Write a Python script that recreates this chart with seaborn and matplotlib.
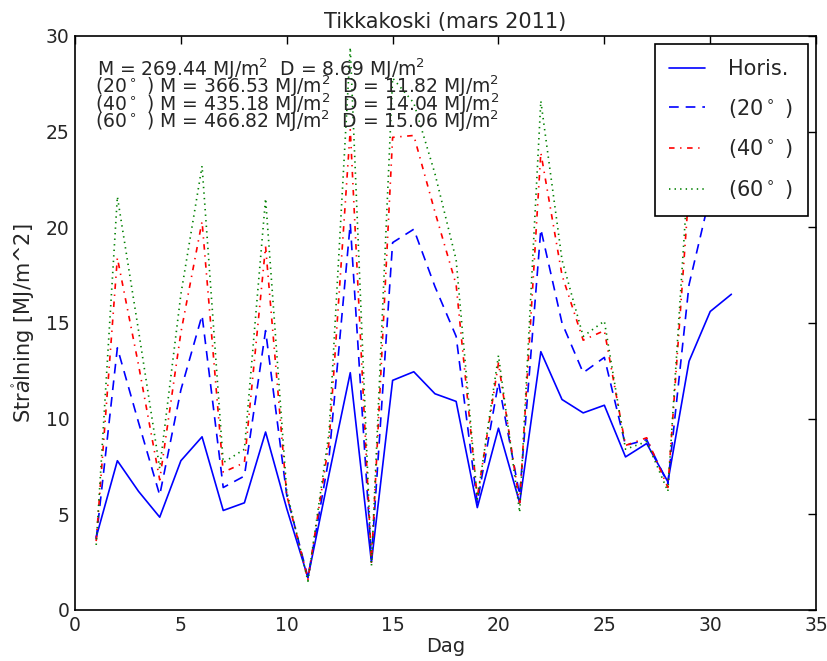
import numpy as np
import pandas as pd
import seaborn as sns
import matplotlib.pyplot as plt

# daily irradiation, Tikkakoski, March 2011 (MJ/m^2)
days = list(range(1, 32))
horis = [3.8, 7.8, 6.2, 4.85, 7.8, 9.05, 5.2, 5.6, 9.3, 5.3,
         1.7, 7.1, 12.4, 2.5, 12.0, 12.45, 11.3, 10.9, 5.35, 9.5,
         5.6, 13.5, 11.0, 10.3, 10.7, 8.0, 8.7, 6.7, 13.0, 15.6, 16.5]
tilt20 = [3.7, 13.7, 9.8, 6.0, 11.5, 15.4, 6.4, 7.0, 14.6, 6.0,
          1.7, 8.0, 20.2, 2.7, 19.2, 19.9, 16.9, 14.3, 5.6, 11.9,
          6.0, 19.9, 15.0, 12.4, 13.2, 8.6, 8.9, 6.6, 17.0, 21.7, 22.7]
tilt40 = [3.6, 18.4, 12.8, 6.8, 14.5, 20.3, 7.2, 7.7, 19.0, 6.0,
          1.6, 8.8, 25.1, 2.5, 24.7, 24.8, 20.8, 17.0, 5.9, 12.9,
          5.6, 23.9, 17.5, 14.1, 14.6, 8.6, 9.0, 6.4, 22.0, 25.8, 27.3]
tilt60 = [3.4, 21.6, 14.6, 7.4, 16.5, 23.2, 7.7, 8.4, 21.5, 6.2,
          1.5, 9.3, 29.4, 2.3, 27.8, 26.5, 22.8, 18.3, 5.8, 13.3,
          5.1, 26.6, 18.3, 14.3, 15.1, 8.4, 8.8, 6.2, 23.5, 26.4, 26.6]

labels = ["Horis.", "(20$^\\circ$ )", "(40$^\\circ$ )", "(60$^\\circ$ )"]
prefixes = ["", "(20$^\\circ$ ) ", "(40$^\\circ$ ) ", "(60$^\\circ$ ) "]
month_totals = [269.44, 366.53, 435.18, 466.82]
daily_means = [8.69, 11.82, 14.04, 15.06]

colors = ["blue", "blue", "red", "green"]
styles = ["-", (0, (7, 5)), (0, (4, 4, 1, 4)), (0, (1, 3))]

sns.set_style("white")
plt.rcParams["font.family"] = ["DejaVu Sans"]
plt.rcParams["mathtext.fontset"] = "dejavusans"
plt.rcParams["lines.scale_dashes"] = False
plt.rcParams["xtick.direction"] = "in"
plt.rcParams["ytick.direction"] = "in"
plt.rcParams["xtick.top"] = True
plt.rcParams["ytick.right"] = True

fig = plt.figure(figsize=(8.28, 6.61), dpi=100)
ax = fig.add_axes([0.0906, 0.0772, 0.895, 0.8684])

for vals, lab, col, ls in zip([horis, tilt20, tilt40, tilt60], labels, colors, styles):
    sns.lineplot(x=days, y=vals, ax=ax, color=col, linestyle=ls,
                 linewidth=1.2, label=lab)

ax.set_xlim(0, 35)
ax.set_ylim(0, 30)
ax.set_xticks(np.arange(0, 36, 5))
ax.set_yticks(np.arange(0, 31, 5))
ax.tick_params(axis="both", which="major", length=6, width=1, color="black",
               labelsize=13.5, pad=4)
for sp in ax.spines.values():
    sp.set_color("black")
    sp.set_linewidth(1.2)

ax.set_title("Tikkakoski (mars 2011)", fontsize=15, pad=6)
ax.set_xlabel("Dag", fontsize=14, labelpad=2)
ax.set_ylabel("Str$\\mathring{a}$lning [MJ/m^2]", fontsize=15, labelpad=6)

for i, (pre, tot, mean) in enumerate(zip(prefixes, month_totals, daily_means)):
    ax.text(0.03 if pre == "" else 0.027, 0.965 - i * 0.0305,
            f"{pre}M = {tot:.2f} MJ/m$^2$  D = {mean:.2f} MJ/m$^2$",
            transform=ax.transAxes, fontsize=13.5, va="top", ha="left",
            zorder=6)

leg = ax.legend(loc="upper right", fontsize=15, frameon=True, fancybox=False,
                edgecolor="black", framealpha=1, borderaxespad=0.4,
                handlelength=1.7, handletextpad=1.1, labelspacing=0.85,
                borderpad=0.7)
leg.get_frame().set_linewidth(1.2)
leg.set_zorder(10)

fig.savefig("out.png", dpi=100, facecolor="white")
